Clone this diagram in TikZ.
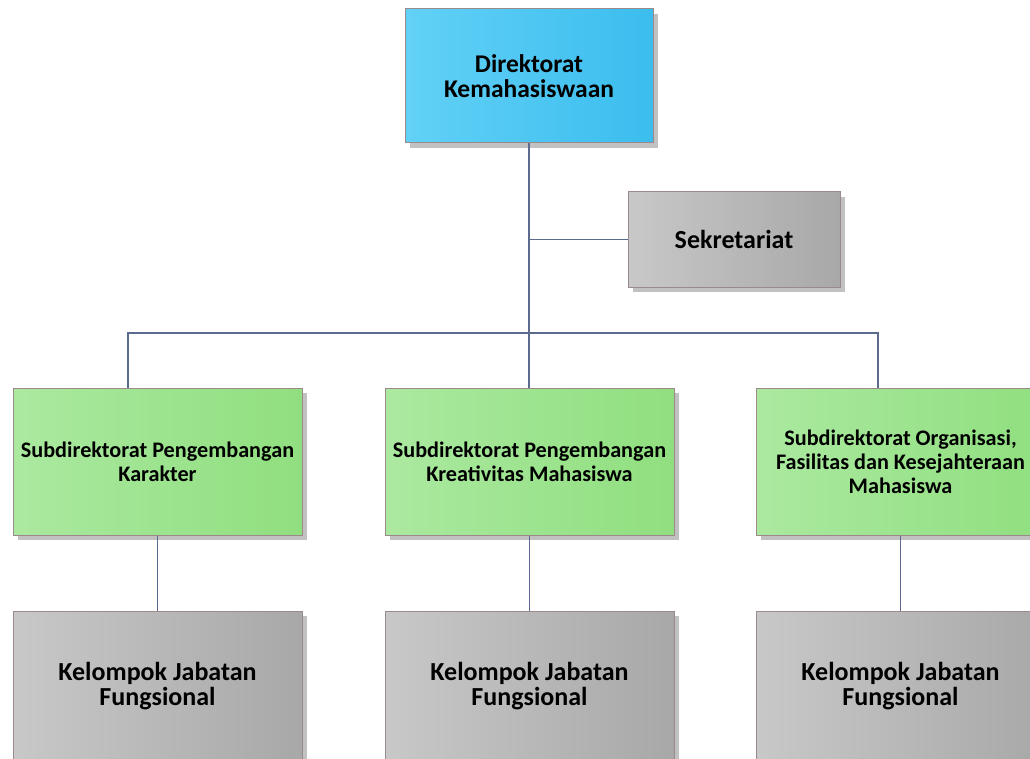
\documentclass[tikz,border=0pt]{standalone}
\usepackage{fontspec}
\setmainfont{Carlito}
\usetikzlibrary{positioning,shadows}

\definecolor{lineblue}{HTML}{5B6A8F}
\definecolor{boxline}{HTML}{9C8A8A}
\definecolor{blueL}{HTML}{62D1F6}
\definecolor{blueR}{HTML}{3BBDEE}
\definecolor{greenL}{HTML}{ABE9A0}
\definecolor{greenR}{HTML}{90DF7F}
\definecolor{grayL}{HTML}{C8C8C8}
\definecolor{grayR}{HTML}{A8A8A8}

\tikzset{
  unit/.style={draw=boxline, line width=1pt, align=center, inner sep=0pt,
    drop shadow={shadow xshift=5pt, shadow yshift=-5pt, fill=black!35, opacity=0.7}},
  head/.style={unit, left color=blueL, right color=blueR,
    minimum width=248pt, minimum height=134pt,
    font=\bfseries\fontsize{25.5}{25}\selectfont},
  sekbox/.style={unit, left color=grayL, right color=grayR,
    minimum width=212pt, minimum height=95pt,
    font=\bfseries\fontsize{26}{26}\selectfont},
  subbox/.style={unit, left color=greenL, right color=greenR,
    minimum width=289pt, minimum height=147pt,
    font=\bfseries\fontsize{22.2}{24}\selectfont},
  kelbox/.style={unit, left color=grayL, right color=grayR,
    minimum width=289pt, minimum height=150pt,
    font=\bfseries\fontsize{26}{25}\selectfont},
  link/.style={draw=lineblue, line width=1.6pt}
}

\begin{document}
\begin{tikzpicture}[x=1pt, y=-1pt]
    \useasboundingbox (0,0) rectangle (1030,759);
    \clip (0,0) rectangle (1030,759);

    % direktorat dan sekretariat
    \node[head] (dir) at (529,76) {Direktorat\\Kemahasiswaan};
    \node[sekbox] (sek) at (734,239.5) {Sekretariat};

    % subdirektorat
    \node[subbox] (sub1) at (157.5,461.5) {Subdirektorat Pengembangan\\Karakter};
    \node[subbox] (sub2) at (529.5,461.5) {Subdirektorat Pengembangan\\Kreativitas Mahasiswa};
    \node[subbox] (sub3) at (900.5,461.5) {Subdirektorat Organisasi,\\Fasilitas dan Kesejahteraan\\Mahasiswa};

    % kelompok jabatan fungsional
    \node[kelbox] (kel1) at (157.5,686) {Kelompok Jabatan\\Fungsional};
    \node[kelbox] (kel2) at (529.5,686) {Kelompok Jabatan\\Fungsional};
    \node[kelbox] (kel3) at (900.5,686) {Kelompok Jabatan\\Fungsional};

    % garis penghubung
    \coordinate (busL) at (128,333);
    \coordinate (busR) at (878,333);
    \draw[link] (dir.south) -- (dir.south |- sub2.north);
    \draw[link] (sek.west) -- (sek.west -| dir.south);
    \draw[link] (sub1.north -| busL) -- (busL) -- (busR) -- (sub3.north -| busR);
    \draw[link] (sub1) -- (kel1);
    \draw[link] (sub2) -- (kel2);
    \draw[link] (sub3) -- (kel3);
\end{tikzpicture}
\end{document}
